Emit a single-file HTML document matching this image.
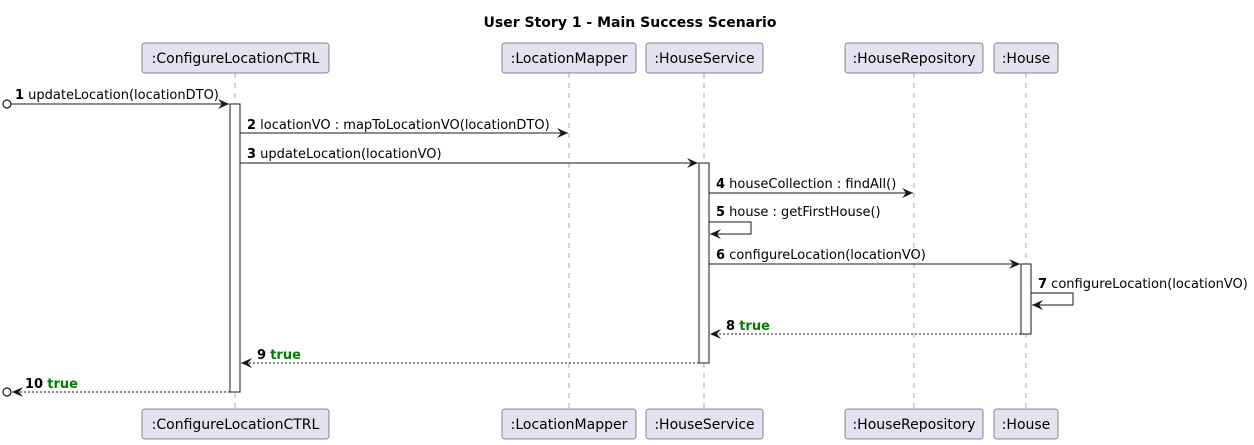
<!DOCTYPE html>
<html><head><meta charset="utf-8"><style>
body{margin:0;background:#fff;}
svg{display:block;font-family:"DejaVu Sans","Liberation Sans",sans-serif;}
.p rect{fill:#e2e2f0;stroke:#181818;stroke-width:0.5;}
.p text{font-size:14px;fill:#000;text-anchor:middle;}
.ll{stroke:#555;stroke-width:0.5;stroke-dasharray:5,5;}
.act{fill:#fff;stroke:#181818;stroke-width:1;}
.m{stroke:#181818;stroke-width:1;fill:none;}
.d{stroke-dasharray:2,2;}
.t{font-size:13px;fill:#000;}
.b{font-weight:bold;}
.g{fill:#008000;font-weight:bold;}
</style></head><body>
<svg width="1254" height="445" viewBox="0 0 1254 445">
<text x="630" y="27" font-size="14" font-weight="bold" text-anchor="middle">User Story 1 - Main Success Scenario</text>
<line class="ll" x1="235" y1="73" x2="235" y2="409"/>
<line class="ll" x1="569" y1="73" x2="569" y2="409"/>
<line class="ll" x1="704" y1="73" x2="704" y2="409"/>
<line class="ll" x1="914" y1="73" x2="914" y2="409"/>
<line class="ll" x1="1026" y1="73" x2="1026" y2="409"/>
<g class="p">
<rect x="142" y="43" width="187" height="30" rx="2.5"/><text x="235.5" y="63">:ConfigureLocationCTRL</text>
<rect x="502" y="43" width="134" height="30" rx="2.5"/><text x="569" y="63">:LocationMapper</text>
<rect x="646" y="43" width="117" height="30" rx="2.5"/><text x="704.5" y="63">:HouseService</text>
<rect x="845" y="43" width="138" height="30" rx="2.5"/><text x="914" y="63">:HouseRepository</text>
<rect x="994" y="43" width="64" height="30" rx="2.5"/><text x="1026" y="63">:House</text>
<rect x="142" y="409" width="187" height="30" rx="2.5"/><text x="235.5" y="429">:ConfigureLocationCTRL</text>
<rect x="502" y="409" width="134" height="30" rx="2.5"/><text x="569" y="429">:LocationMapper</text>
<rect x="646" y="409" width="117" height="30" rx="2.5"/><text x="704.5" y="429">:HouseService</text>
<rect x="845" y="409" width="138" height="30" rx="2.5"/><text x="914" y="429">:HouseRepository</text>
<rect x="994" y="409" width="64" height="30" rx="2.5"/><text x="1026" y="429">:House</text>
</g>
<rect class="act" x="230" y="104" width="10" height="288"/>
<rect class="act" x="699" y="163" width="10" height="200"/>
<rect class="act" x="1021" y="264" width="10" height="70"/>
<defs><marker id="a" markerWidth="12" markerHeight="10" refX="11" refY="5" orient="auto" markerUnits="userSpaceOnUse"><path d="M0,0 L11,5 L0,10 L4,5 Z" fill="#181818"/></marker></defs>
<circle cx="7" cy="104" r="4" fill="none" stroke="#181818" stroke-width="1.2"/>
<line class="m" x1="11" y1="104" x2="229" y2="104" marker-end="url(#a)"/>
<text class="t" x="15" y="99"><tspan class="b">1</tspan> updateLocation(locationDTO)</text>
<line class="m" x1="240" y1="133" x2="568" y2="133" marker-end="url(#a)"/>
<text class="t" x="247" y="129"><tspan class="b">2</tspan> locationVO : mapToLocationVO(locationDTO)</text>
<line class="m" x1="240" y1="163" x2="698" y2="163" marker-end="url(#a)"/>
<text class="t" x="247" y="158"><tspan class="b">3</tspan> updateLocation(locationVO)</text>
<line class="m" x1="709" y1="193" x2="913" y2="193" marker-end="url(#a)"/>
<text class="t" x="716" y="188"><tspan class="b">4</tspan> houseCollection : findAll()</text>
<polyline class="m" points="709,222 751,222 751,234 710,234" marker-end="url(#a)"/>
<text class="t" x="716" y="216"><tspan class="b">5</tspan> house : getFirstHouse()</text>
<line class="m" x1="709" y1="264" x2="1020" y2="264" marker-end="url(#a)"/>
<text class="t" x="716" y="259"><tspan class="b">6</tspan> configureLocation(locationVO)</text>
<polyline class="m" points="1031,293 1073,293 1073,305 1032,305" marker-end="url(#a)"/>
<text class="t" x="1038" y="288"><tspan class="b">7</tspan> configureLocation(locationVO)</text>
<line class="m d" x1="1021" y1="334" x2="710" y2="334" marker-end="url(#a)"/>
<text class="t" x="726" y="330"><tspan class="b">8</tspan> <tspan class="g">true</tspan></text>
<line class="m d" x1="699" y1="363" x2="241" y2="363" marker-end="url(#a)"/>
<text class="t" x="257" y="359"><tspan class="b">9</tspan> <tspan class="g">true</tspan></text>
<line class="m d" x1="230" y1="392" x2="12" y2="392" marker-end="url(#a)"/>
<circle cx="7" cy="392" r="4" fill="none" stroke="#181818" stroke-width="1.2"/>
<text class="t" x="25" y="388"><tspan class="b">10</tspan> <tspan class="g">true</tspan></text>
</svg>
</body></html>
